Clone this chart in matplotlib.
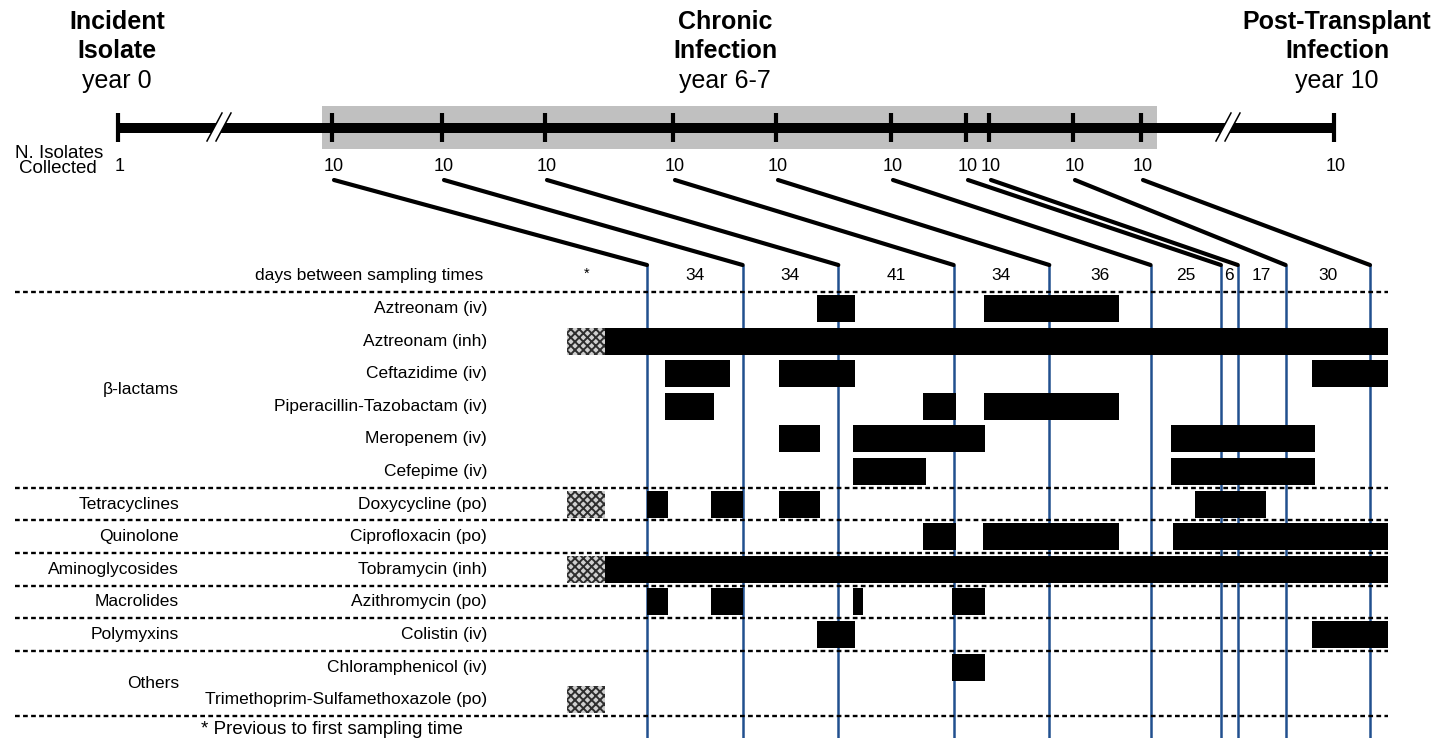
import numpy as np
import matplotlib
matplotlib.use("Agg")
import matplotlib.pyplot as plt
from matplotlib.patches import Rectangle, Polygon, ConnectionPatch
from matplotlib.transforms import blended_transform_factory

plt.rcParams['font.family'] = ['Liberation Sans', 'DejaVu Sans']
plt.rcParams['lines.scale_dashes'] = False
plt.rcParams['hatch.linewidth'] = 1.4

# ---- overview timeline (schematic, not to scale) ----
TIMELINE_X = [118, 332, 442, 545, 673, 776, 891, 966, 989, 1073, 1141, 1334]
ISOLATES = [1, 10, 10, 10, 10, 10, 10, 10, 10, 10, 10, 10]
CHRONIC = slice(1, 11)          # the ten samples detailed below
CHRONIC_SPAN = (322, 1157)
BREAKS_X = [219, 1228]

# ---- sampling schedule of the chronic infection ----
DAYS_BETWEEN = [34, 34, 41, 34, 36, 25, 6, 17, 30]
sample_days = np.concatenate([[0], np.cumsum(DAYS_BETWEEN)])

PRE = (-28.3, -14.9)   # treatment given before the first sampling time
END = 263.4            # end of follow-up

DRUGS = [
    "Aztreonam (iv)", "Aztreonam (inh)", "Ceftazidime (iv)",
    "Piperacillin-Tazobactam (iv)", "Meropenem (iv)", "Cefepime (iv)",
    "Doxycycline (po)", "Ciprofloxacin (po)", "Tobramycin (inh)",
    "Azithromycin (po)", "Colistin (iv)", "Chloramphenicol (iv)",
    "Trimethoprim-Sulfamethoxazole (po)",
]
CLASSES = [
    ("β-lactams", 0, 5), ("Tetracyclines", 6, 6), ("Quinolone", 7, 7),
    ("Aminoglycosides", 8, 8), ("Macrolides", 9, 9), ("Polymyxins", 10, 10),
    ("Others", 11, 12),
]
PRE_TREATED = [1, 6, 8, 12]

# treatment courses per drug, (start day, end day)
COURSES = [
    [(60.5, 74), (119.7, 167.8)],
    [(PRE[1], END)],
    [(6.4, 29.5), (46.9, 74), (236.4, END)],
    [(6.4, 23.8), (98.1, 109.8), (119.7, 167.8)],
    [(46.9, 61.4), (73.1, 120.3), (186.2, 237.3)],
    [(73.1, 99.1), (186.2, 237.3)],
    [(0, 7.4), (22.9, 34), (46.9, 61.4), (194.8, 219.9)],
    [(98.1, 109.8), (119.5, 167.8), (187, END)],
    [(PRE[1], END)],
    [(0, 7.4), (22.9, 34), (73.1, 76.8), (108.3, 120.2)],
    [(60.5, 74), (236.4, END)],
    [(108.3, 120.2)],
    [],
]

W, H = 1451, 738
ROW0, ROW = 308.5, 32.6
DAY0_PX, PX_PER_DAY = 647, (1370 - 647) / 257
BAR_L, BAR_R = 15, 1388
LINK_ROW = (265 - ROW0) / ROW
BLUE = '#21508f'
FS = 12.5

fig = plt.figure(figsize=(W / 100, H / 100), dpi=100)
ax = fig.add_axes([0, 0, 1, 1])
ax.set_xlim(0, W)
ax.set_ylim(H, 0)
ax.axis('off')

top_px = ROW0 - 0.5 * ROW
bot_px = ROW0 + 12.5 * ROW
axb = fig.add_axes([BAR_L / W, 1 - bot_px / H, (BAR_R - BAR_L) / W, (bot_px - top_px) / H])
axb.set_xlim(END - (BAR_R - BAR_L) / PX_PER_DAY, END)
axb.set_ylim(12.5, -0.5)
axb.axis('off')
axb.patch.set_alpha(0)

# ---- headings ----
heads = [
    (117, ["Incident", "Isolate", "year 0"]),
    (725, ["Chronic", "Infection", "year 6-7"]),
    (1337, ["Post-Transplant", "Infection", "year 10"]),
]
for x, lines in heads:
    for i, s in enumerate(lines):
        ax.text(x, 29 + 29.5 * i, s, ha='center', va='baseline', fontsize=18,
                fontweight='bold' if i < 2 else 'normal')

# ---- overview timeline ----
ax.add_patch(Rectangle((CHRONIC_SPAN[0], 106), CHRONIC_SPAN[1] - CHRONIC_SPAN[0], 42.5,
                       color='#c0c0c0', lw=0, zorder=0))
ax.plot([TIMELINE_X[0], TIMELINE_X[-1]], [128, 128], color='black', lw=7.2,
        solid_capstyle='butt', zorder=2)
ax.vlines(TIMELINE_X, 113, 141.5, color='black', lw=3, zorder=3)
for bx in BREAKS_X:
    g, s = 4.5, 7.5
    ax.add_patch(Polygon([(bx - g - s, 141), (bx + g - s, 141), (bx + g + s, 113), (bx - g + s, 113)],
                         closed=True, color='white', lw=0, zorder=4))
    for off in (-g, g):
        ax.plot([bx + off - s, bx + off + s], [141, 113], color='black', lw=1.1, zorder=5)
for x, n in zip(TIMELINE_X, ISOLATES):
    ax.text(x + 2, 171, str(n), ha='center', va='baseline', fontsize=13)
ax.text(59, 158, "N. Isolates", ha='center', va='baseline', fontsize=13.5)
ax.text(58, 173, "Collected", ha='center', va='baseline', fontsize=13.5)

# ---- links from timeline to sampling times ----
for x, d in zip(TIMELINE_X[CHRONIC], sample_days):
    con = ConnectionPatch(xyA=(x + 2, 180), coordsA=ax.transData,
                          xyB=(d, LINK_ROW), coordsB=axb.transData,
                          color='black', lw=3, zorder=5)
    fig.add_artist(con)
axb.vlines(sample_days, LINK_ROW, 13.4, colors=BLUE, lw=1.8, clip_on=False, zorder=1)

# ---- treatment table ----
lbl = blended_transform_factory(ax.transData, axb.transData)
axb.text(483, -1, "days between sampling times", transform=lbl, ha='right', va='center', fontsize=FS)
axb.text(np.mean(PRE), -1.05, "*", ha='center', va='center', fontsize=FS - 2)
mids = (sample_days[:-1] + sample_days[1:]) / 2
for m, d in zip(mids, DAYS_BETWEEN):
    axb.text(m, -1, str(d), ha='center', va='center', fontsize=FS)

for i, name in enumerate(DRUGS):
    axb.text(487, i, name, transform=lbl, ha='right', va='center', fontsize=FS)
for name, a, b in CLASSES:
    axb.text(179, (a + b) / 2, name, transform=lbl, ha='right', va='center', fontsize=FS)

h = 0.83
for i, courses in enumerate(COURSES):
    for s, e in courses:
        axb.barh(i, e - s, left=s, height=h, color='black', lw=0, zorder=2)
for i in PRE_TREATED:
    axb.barh(i, PRE[1] - PRE[0], left=PRE[0], height=h, facecolor='#d0d0d0',
             edgecolor='#2e2e2e', hatch='xxxx', lw=0, zorder=2)

for y in [-0.5] + [b + 0.5 for _, _, b in CLASSES]:
    axb.axhline(y, color='black', lw=1.7, dashes=(3.4, 2.4), zorder=1.5, clip_on=False)

ax.text(332, 729, "* Previous to first sampling time", ha='center', va='center', fontsize=13.5)

fig.savefig("out.png", dpi=100)
